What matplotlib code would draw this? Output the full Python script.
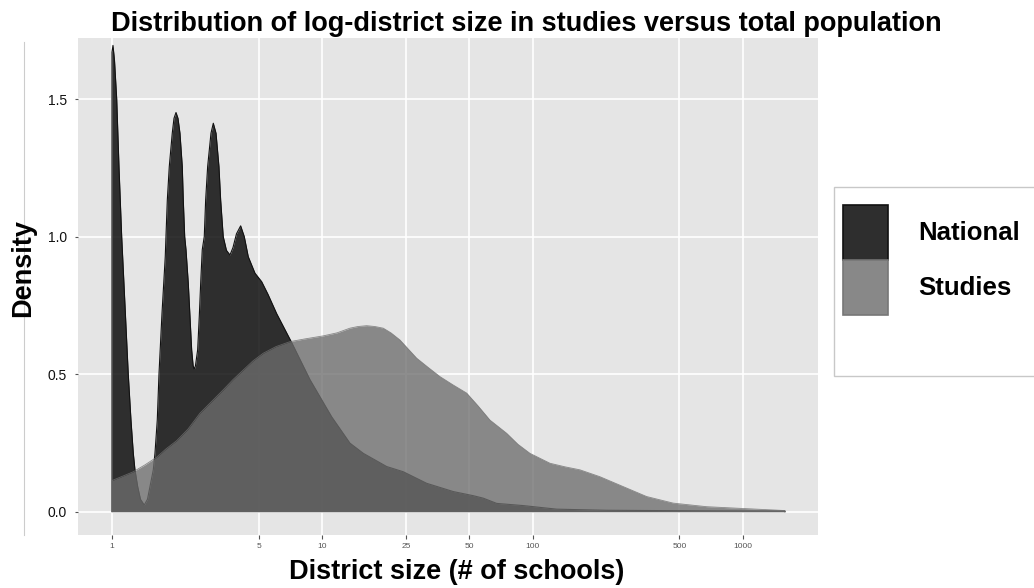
import matplotlib
matplotlib.use("Agg")
import matplotlib.pyplot as plt
from matplotlib.patches import Patch, Rectangle
from matplotlib.lines import Line2D

plt.rcParams['font.family'] = ['Liberation Sans', 'DejaVu Sans']

# density curves (x = district size, y = density)
national_x = [1.000, 1.011, 1.028, 1.053, 1.080, 1.112, 1.153, 1.195, 1.231, 1.263,
              1.286, 1.325, 1.366, 1.424, 1.475, 1.516, 1.572, 1.601, 1.642, 1.673,
              1.729, 1.792, 1.806, 1.833, 1.873, 1.935, 1.972, 2.016, 2.060, 2.105,
              2.159, 2.183, 2.217, 2.249, 2.306, 2.349, 2.393, 2.432, 2.462, 2.494,
              2.555, 2.601, 2.641, 2.687, 2.747, 2.789, 2.851, 2.957, 3.033, 3.124,
              3.226, 3.287, 3.381, 3.502, 3.640, 3.762, 3.909, 4.092, 4.257, 4.447,
              4.786, 5.151, 5.520, 6.069, 7.152, 8.740, 11.08, 13.54, 15.67, 20.24,
              24.28, 31.36, 41.97, 52.24, 58.30, 67.51, 90.3, 130.2, 225.1, 625.2, 1586.0]
national_y = [1.67, 1.695, 1.64, 1.50, 1.25, 1.00, 0.75, 0.50, 0.333, 0.212,
              0.152, 0.091, 0.045, 0.024, 0.045, 0.091, 0.152, 0.212, 0.333, 0.50,
              0.72, 0.927, 1.00, 1.133, 1.255, 1.376, 1.43, 1.451, 1.43, 1.376,
              1.255, 1.133, 1.00, 0.952, 0.83, 0.709, 0.588, 0.53, 0.518, 0.53,
              0.588, 0.709, 0.83, 0.952, 1.00, 1.133, 1.255, 1.376, 1.412, 1.376,
              1.255, 1.133, 1.00, 0.95, 0.933, 0.96, 1.01, 1.039, 1.00, 0.927,
              0.867, 0.836, 0.79, 0.72, 0.615, 0.48, 0.345, 0.249, 0.212, 0.164,
              0.145, 0.103, 0.073, 0.058, 0.049, 0.030, 0.022, 0.009, 0.005, 0.003, 0.002]

studies_x = [1.0, 1.116, 1.263, 1.435, 1.632, 1.806, 2.031, 2.298, 2.621, 2.973,
             3.382, 3.762, 4.211, 4.682, 5.242, 6.023, 7.021, 8.274, 10.11, 11.75,
             13.54, 14.78, 16.26, 17.81, 19.50, 21.22, 23.42, 28.11, 31.81, 36.28,
             41.83, 48.61, 55.0, 62.71, 75.3, 85.2, 97.2, 121.0, 142.6, 168.1,
             209.2, 270.0, 348.7, 466.7, 672.8, 968.7, 1586.0]
studies_y = [0.113, 0.128, 0.145, 0.17, 0.198, 0.228, 0.258, 0.30, 0.358, 0.40,
             0.443, 0.48, 0.515, 0.548, 0.576, 0.60, 0.618, 0.628, 0.639, 0.65,
             0.667, 0.673, 0.676, 0.673, 0.667, 0.65, 0.624, 0.558, 0.525, 0.491,
             0.461, 0.431, 0.385, 0.333, 0.285, 0.245, 0.212, 0.176, 0.163, 0.152,
             0.127, 0.091, 0.055, 0.031, 0.018, 0.012, 0.004]

x_ticks = [1, 5, 10, 25, 50, 100, 500, 1000]
y_ticks = [0.0, 0.5, 1.0, 1.5]
groups = ['National', 'Studies']

fig = plt.figure(figsize=(10.34, 5.88), dpi=100)
ax = fig.add_axes([0.0754, 0.0901, 0.7156, 0.8453])
ax.set_facecolor('#e5e5e5')

nat_col, nat_alpha = 'black', 0.8
stu_col, stu_alpha = '#6e6e6e', 0.78

ax.fill_between(national_x, national_y, color=nat_col, alpha=nat_alpha, lw=0, zorder=2)
ax.plot([national_x[0]] + national_x + [national_x[-1]], [0] + national_y + [0],
        color='#111111', lw=0.8, zorder=2)
ax.fill_between(studies_x, studies_y, color=stu_col, alpha=stu_alpha, lw=0, zorder=3)
ax.plot([studies_x[0]] + studies_x + [studies_x[-1]], [0] + studies_y + [0],
        color='#707070', lw=0.6, alpha=0.8, zorder=3)

ax.set_xscale('log')
ax.set_xlim(0.689, 2276)
ax.set_ylim(-0.085, 1.722)
ax.set_xticks(x_ticks)
ax.set_xticklabels([str(t) for t in x_ticks])
ax.xaxis.set_minor_locator(matplotlib.ticker.NullLocator())
ax.set_yticks(y_ticks)
ax.set_yticklabels(['%.1f' % t for t in y_ticks])
ax.grid(True, color='white', lw=1.2, zorder=1)
ax.set_axisbelow(True)
for s in ax.spines.values():
    s.set_visible(False)
ax.tick_params(axis='x', labelsize=6, colors='#555555', length=3, width=0.8, pad=3)
ax.tick_params(axis='y', labelsize=10, labelcolor='#111111', color='#555555',
               length=2, width=0.8, pad=6)

fig.text(0.509, 0.981, 'Distribution of log-district size in studies versus total population',
         ha='center', va='top', fontsize=19.5, fontweight='bold')
fig.text(0.442, 0.027, 'District size (# of schools)', ha='center', va='center',
         fontsize=19.5, fontweight='bold')
fig.text(0.022, 0.545, 'Density', ha='center', va='center', rotation=90,
         fontsize=19.5, fontweight='bold')

# faint edge line at left like the original
fig.add_artist(Line2D([24 / 1034, 24 / 1034], [1 - 42 / 588, 1 - 535 / 588],
                      color='#cccccc', lw=0.8))

# legend box
fig.add_artist(Rectangle((834 / 1034, 1 - 376 / 588), 0.25, (376 - 187) / 588,
                         transform=fig.transFigure, facecolor='white',
                         edgecolor='#c8c8c8', lw=1))
handles = [Patch(facecolor='#2e2e2e', edgecolor='#111111', lw=1.2),
           Patch(facecolor='#888888', edgecolor='#777777', lw=1.2)]
leg = fig.legend(handles, groups, loc='center left', bbox_to_anchor=(0.815, 0.558),
                 frameon=False, fontsize=18.5, handlelength=1.75, handleheight=2.9,
                 labelspacing=0.0, handletextpad=1.2, borderaxespad=0, borderpad=0)
for t in leg.get_texts():
    t.set_fontweight('bold')

fig.savefig('out.png', dpi=100)
